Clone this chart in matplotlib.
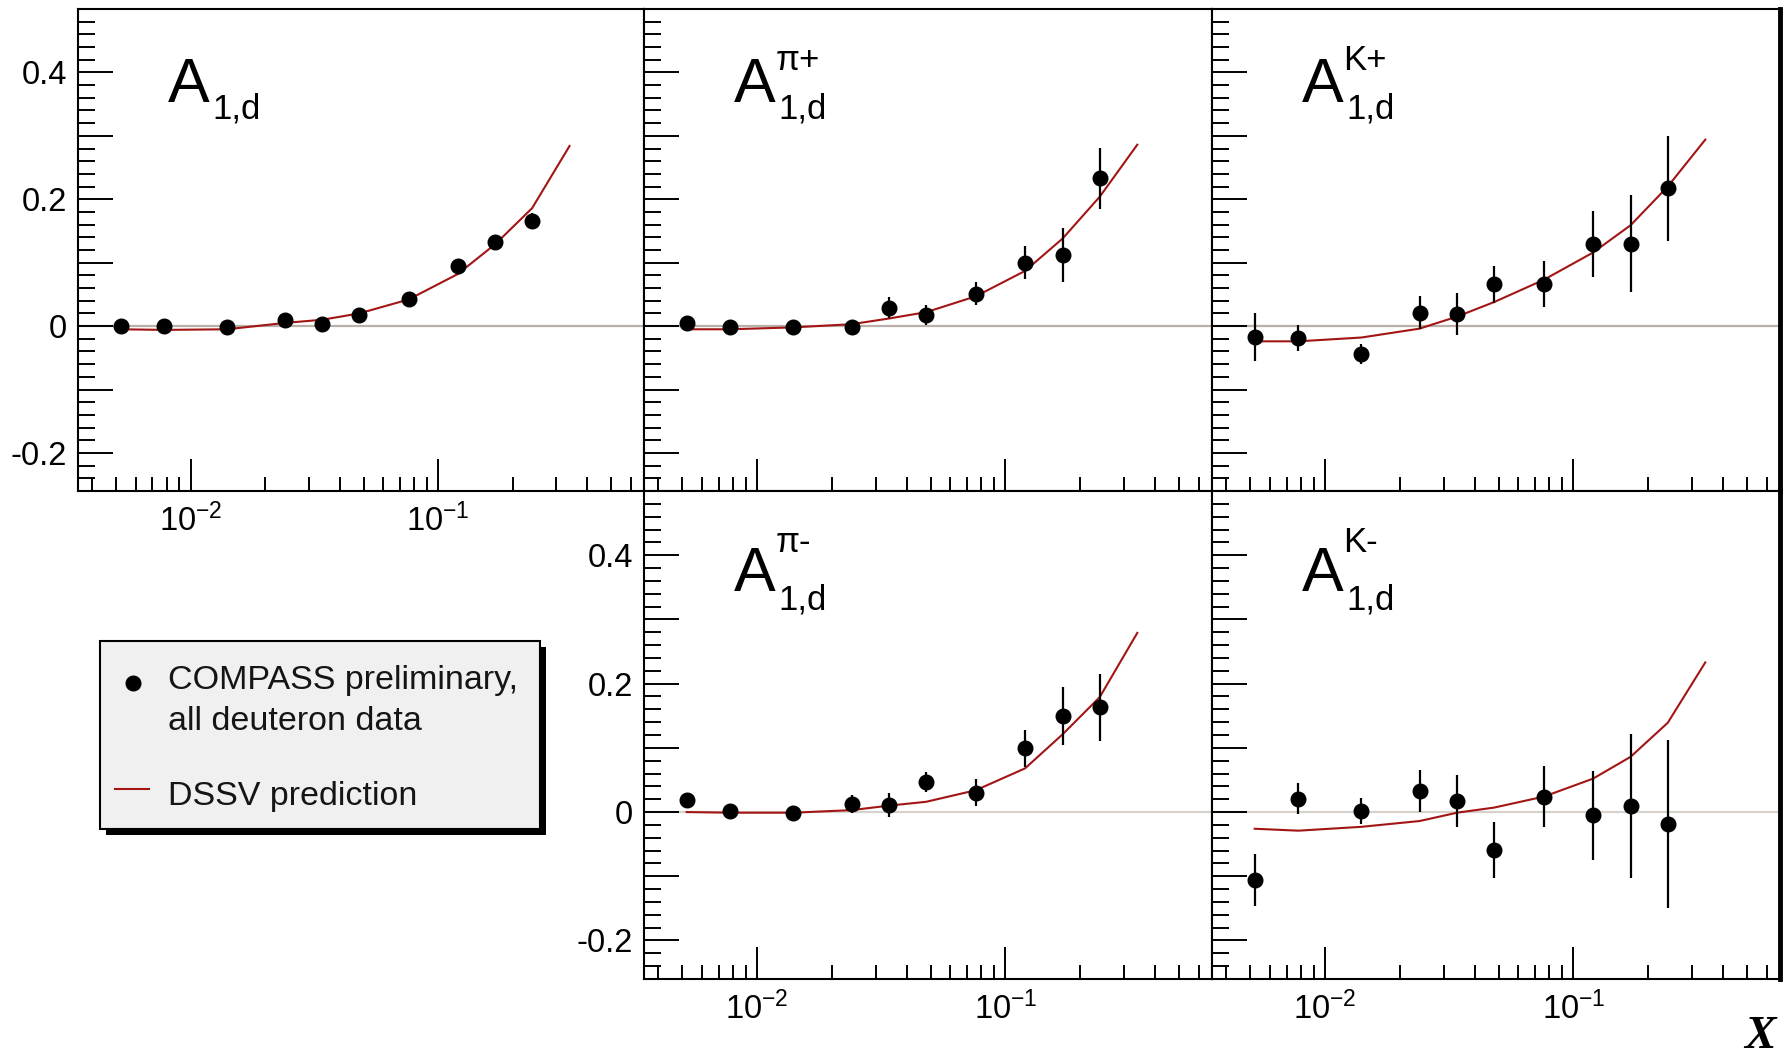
import numpy as np
import matplotlib.pyplot as plt
from matplotlib.patches import Rectangle
from matplotlib.ticker import FixedLocator, FuncFormatter, LogLocator, MultipleLocator

plt.rcParams['font.family'] = ['Liberation Sans', 'DejaVu Sans']
plt.rcParams['mathtext.fontset'] = 'custom'
plt.rcParams['mathtext.rm'] = 'Liberation Sans'
plt.rcParams['mathtext.it'] = 'Liberation Sans:italic'
plt.rcParams['mathtext.bf'] = 'Liberation Sans:bold'

# x bins of the measurement and of the DSSV curve
x_bins = [0.0052, 0.0078, 0.014, 0.024, 0.034, 0.048, 0.076, 0.12, 0.17, 0.24]
x_curve = [0.0052, 0.0078, 0.014, 0.024, 0.034, 0.048, 0.076, 0.12, 0.17, 0.24, 0.34]

# A_1,d inclusive
a1d_val = [0.0, 0.0, -0.002, 0.010, 0.004, 0.017, 0.042, 0.095, 0.133, 0.166]
a1d_err = [0.005, 0.005, 0.005, 0.006, 0.006, 0.006, 0.007, 0.009, 0.010, 0.012]
a1d_dssv = [-0.005, -0.006, -0.005, 0.005, 0.010, 0.020, 0.042, 0.082, 0.129, 0.186, 0.284]

# pi+
pip_val = [0.005, -0.002, -0.002, -0.001, 0.029, 0.017, 0.051, 0.100, 0.112, 0.233]
pip_err = [0.010, 0.008, 0.008, 0.010, 0.017, 0.016, 0.018, 0.026, 0.043, 0.048]
pip_dssv = [-0.005, -0.005, -0.002, 0.003, 0.012, 0.022, 0.047, 0.087, 0.138, 0.204, 0.286]

# K+
kp_val = [-0.017, -0.019, -0.044, 0.021, 0.019, 0.066, 0.066, 0.130, 0.130, 0.217]
kp_err = [0.038, 0.021, 0.016, 0.026, 0.033, 0.029, 0.036, 0.052, 0.077, 0.083]
kp_dssv = [-0.024, -0.024, -0.018, -0.004, 0.015, 0.038, 0.073, 0.116, 0.159, 0.220, 0.294]

# pi-
pim_val = [0.018, 0.002, -0.002, 0.013, 0.011, 0.047, 0.030, 0.099, 0.149, 0.163]
pim_err = [0.010, 0.008, 0.008, 0.014, 0.019, 0.016, 0.021, 0.029, 0.045, 0.052]
pim_dssv = [0.000, -0.001, -0.001, 0.003, 0.010, 0.016, 0.034, 0.068, 0.121, 0.179, 0.279]

# K-
km_val = [-0.106, 0.021, 0.002, 0.033, 0.017, -0.059, 0.024, -0.005, 0.010, -0.019]
km_err = [0.040, 0.024, 0.020, 0.033, 0.040, 0.043, 0.047, 0.069, 0.112, 0.131]
km_dssv = [-0.026, -0.029, -0.023, -0.014, -0.001, 0.007, 0.024, 0.052, 0.086, 0.139, 0.233]

W, H = 1792, 1057
fig = plt.figure(figsize=(W / 100, H / 100), dpi=100)

col_edges = [78, 644, 1212, 1780]
row_edges = [(9, 491), (491, 979)]

curve_color = '#a31515'


def ylab(v, pos):
    if abs(v / 0.2 - round(v / 0.2)) < 1e-6:
        return '0' if abs(v) < 1e-9 else f'{v:.1f}'
    return ''


def xlab(v, pos):
    e = int(round(np.log10(v)))
    return r'$\mathregular{10^{%d}}$' % e


def make_panel(col, row, sup, val, err, dssv, show_x, show_y, zero_color):
    x0, x1 = col_edges[col], col_edges[col + 1]
    y0, y1 = row_edges[row]
    ax = fig.add_axes([x0 / W, 1 - y1 / H, (x1 - x0) / W, (y1 - y0) / H])

    ax.axhline(0, color=zero_color, lw=1.6, zorder=1)
    ax.plot(x_curve, dssv, color=curve_color, lw=1.5, zorder=2)
    ax.errorbar(x_bins, val, yerr=err, fmt='o', color='black', ms=10.5,
                elinewidth=1.6, capsize=0, zorder=3)

    ax.set_xscale('log')
    ax.set_xlim(0.0035, 0.68)
    ax.set_ylim(-0.26, 0.5)
    ax.xaxis.set_major_locator(FixedLocator([0.01, 0.1]))
    ax.xaxis.set_minor_locator(LogLocator(base=10, subs=np.arange(2, 10), numticks=20))
    ax.xaxis.set_major_formatter(FuncFormatter(xlab))
    ax.xaxis.set_minor_formatter(FuncFormatter(lambda v, p: ''))
    ax.yaxis.set_major_locator(MultipleLocator(0.1))
    ax.yaxis.set_minor_locator(MultipleLocator(0.02))
    ax.yaxis.set_major_formatter(FuncFormatter(ylab))

    ax.tick_params(which='both', direction='in', top=False, right=False,
                   color='black', width=1.4, labelsize=23.5)
    ax.tick_params(axis='x', which='major', length=23, pad=9)
    ax.tick_params(axis='x', which='minor', length=10)
    ax.tick_params(axis='y', which='major', length=25, pad=8)
    ax.tick_params(axis='y', which='minor', length=12)
    ax.tick_params(labelbottom=show_x, labelleft=show_y)

    for s in ax.spines.values():
        s.set_linewidth(1.5)
    if col == 2:
        ax.spines['right'].set_linewidth(3.5)

    # label A^{sup}_{1,d}
    if row == 0:
        ya, ysub, ysup = 0.807, 0.772, 0.873
    else:
        ya, ysub, ysup = 0.795, 0.758, 0.875
    ax.text(0.158, ya, 'A', transform=ax.transAxes, fontsize=45, va='baseline')
    ax.text(0.237, ysub, '1,d', transform=ax.transAxes, fontsize=25, va='baseline')
    if sup:
        ax.text(0.231, ysup, sup, transform=ax.transAxes, fontsize=25, va='baseline')
    return ax


make_panel(0, 0, '', a1d_val, a1d_err, a1d_dssv, True, True, '#b9b1a9')
make_panel(1, 0, 'π+', pip_val, pip_err, pip_dssv, False, False, '#b9b1a9')
make_panel(2, 0, 'K+', kp_val, kp_err, kp_dssv, False, False, '#b9b1a9')
make_panel(1, 1, 'π-', pim_val, pim_err, pim_dssv, True, True, '#d8d2ce')
make_panel(2, 1, 'K-', km_val, km_err, km_dssv, True, False, '#d8d2ce')

# legend box and x label drawn in pixel coordinates
lax = fig.add_axes([0, 0, 1, 1], zorder=5)
lax.set_xlim(0, W)
lax.set_ylim(H, 0)
lax.axis('off')
lax.add_patch(Rectangle((106, 647), 440, 188, facecolor='black', edgecolor='none'))
lax.add_patch(Rectangle((100, 641), 440, 188, facecolor='#f0f0f0', edgecolor='black', lw=1.5))
lax.plot([133], [683], 'o', color='black', ms=10.5)
lax.text(168, 680, 'COMPASS preliminary,', fontsize=24.5, va='center', color='#151515')
lax.text(168, 722, 'all deuteron data', fontsize=24.5, va='center', color='#151515')
lax.plot([115, 149], [789, 789], color=curve_color, lw=1.5)
lax.text(168, 796, 'DSSV prediction', fontsize=24.5, va='center', color='#151515')
lax.text(1776, 1048, 'X', family='Liberation Serif', fontweight='bold', fontstyle='italic',
         fontsize=34, ha='right', va='baseline')

fig.savefig('out.png', dpi=100)
